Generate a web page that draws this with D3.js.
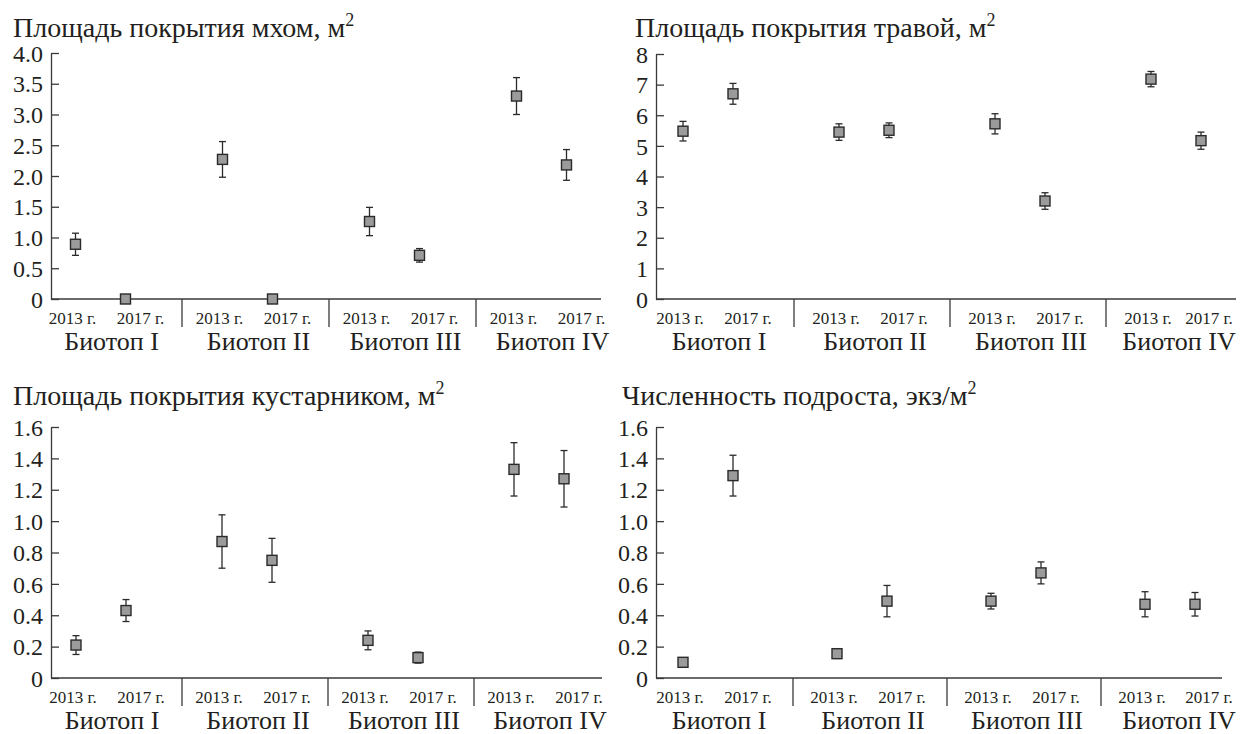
<!DOCTYPE html>
<html>
<head>
<meta charset="utf-8">
<script src="https://cdn.jsdelivr.net/npm/d3@7"></script>
<style>
	body { margin: 0; background: #fff; }
</style>
</head>
<body>
<svg id="chart" width="1240" height="734"></svg>
<script>
// categories (order: biotope I 2013, biotope I 2017, biotope II 2013, ...)
var biotopes = ["Биотоп I", "Биотоп II", "Биотоп III", "Биотоп IV"];
var years = ["2013 г.", "2017 г."];

// moss cover, m2
var mossMean = [0.89, 0, 2.27, 0, 1.26, 0.71, 3.30, 2.18];
var mossErr = [0.18, 0, 0.29, 0, 0.23, 0.11, 0.30, 0.25];
// grass cover, m2
var grassMean = [5.48, 6.70, 5.45, 5.51, 5.72, 3.20, 7.18, 5.17];
var grassErr = [0.32, 0.34, 0.27, 0.24, 0.33, 0.27, 0.25, 0.28];
// shrub cover, m2
var shrubMean = [0.21, 0.43, 0.87, 0.75, 0.24, 0.13, 1.33, 1.27];
var shrubErr = [0.06, 0.07, 0.17, 0.14, 0.06, 0.035, 0.17, 0.18];
// undergrowth density, ind/m2
var youngMean = [0.10, 1.29, 0.155, 0.49, 0.49, 0.67, 0.47, 0.47];
var youngErr = [0.02, 0.13, 0.03, 0.10, 0.05, 0.07, 0.08, 0.075];

var FONT = "'Liberation Serif', 'Times New Roman', serif";
var svg = d3.select("#chart").attr("font-family", FONT);

function txt(sel, size) {
	return sel.attr("font-family", FONT).attr("font-size", size).attr("fill", "#231f20");
}

function drawPanel(p) {
	var g = svg.append("g");
	var y = d3.scaleLinear().domain([0, p.max]).range([p.y0, p.y1]);
	var gx = d3.scaleBand().domain(biotopes).range(p.band);
	var px = d3.scalePoint().domain(years).range([-33, 17]);
	var lx = d3.scalePoint().domain(years).range([-36, 32]);

	var data = [];
	biotopes.forEach(function(b, i) {
		years.forEach(function(yr, j) {
			data.push({b: b, yr: yr, v: p.mean[i * 2 + j], e: p.err[i * 2 + j]});
		});
	});
	var cx = function(d) { return gx(d.b) + gx.bandwidth() / 2 + px(d.yr); };

	// title
	var t = txt(g.append("text"), 28)
		.attr("x", p.tx).attr("y", p.ty)
		.text(p.title);
	t.append("tspan").attr("dy", -11).attr("font-size", 18).text("2");

	// y axis
	var ticks = d3.range(0, p.max + p.step / 2, p.step);
	var ya = g.append("g")
		.attr("transform", "translate(" + p.ax + ",0)")
		.call(d3.axisLeft(y).tickValues(ticks).tickSizeInner(-8).tickSizeOuter(0).tickPadding(8)
			.tickFormat(function(d) { return d === 0 ? "0" : (p.step < 1 ? d.toFixed(1) : d); }));
	ya.attr("font-family", FONT);
	ya.selectAll("path, line").attr("stroke", "#3a3a3a").attr("stroke-width", 1.3);
	txt(ya.selectAll("text"), 24).attr("dy", "0.34em");

	// x axis line
	g.append("line")
		.attr("x1", p.ax).attr("x2", p.axEnd)
		.attr("y1", p.y0).attr("y2", p.y0)
		.attr("stroke", "#3a3a3a").attr("stroke-width", 1.3);

	// group separators
	g.selectAll(".sep")
		.data(biotopes.slice(1))
		.enter().append("line")
		.attr("x1", function(d) { return gx(d); })
		.attr("x2", function(d) { return gx(d); })
		.attr("y1", p.y0).attr("y2", p.y0 + 28)
		.attr("stroke", "#3a3a3a").attr("stroke-width", 1.3);

	// year labels
	txt(g.selectAll(".yl")
		.data(data)
		.enter().append("text"), 17)
		.attr("x", function(d) {
			var x = gx(d.b) + gx.bandwidth() / 2 + lx(d.yr);
			return Math.min(x, p.labelMax - 26);
		})
		.attr("y", p.y0 + 25)
		.attr("text-anchor", "middle")
		.text(function(d) { return d.yr; });

	// biotope labels
	txt(g.selectAll(".bl")
		.data(biotopes)
		.enter().append("text"), 26)
		.attr("x", function(d) { return Math.min(gx(d) + gx.bandwidth() / 2 + 3, p.labelMax - 56); })
		.attr("y", p.y0 + 51)
		.attr("text-anchor", "middle")
		.text(function(d) { return d; });

	// error bars
	var eb = g.selectAll(".eb")
		.data(data.filter(function(d) { return d.e > 0; }))
		.enter().append("g")
		.attr("stroke", "#2a2a2a").attr("stroke-width", 1.3);
	eb.append("line")
		.attr("x1", cx).attr("x2", cx)
		.attr("y1", function(d) { return y(d.v + d.e); })
		.attr("y2", function(d) { return y(d.v - d.e); });
	eb.append("line")
		.attr("x1", function(d) { return cx(d) - 3.5; })
		.attr("x2", function(d) { return cx(d) + 3.5; })
		.attr("y1", function(d) { return y(d.v + d.e); })
		.attr("y2", function(d) { return y(d.v + d.e); });
	eb.append("line")
		.attr("x1", function(d) { return cx(d) - 3.5; })
		.attr("x2", function(d) { return cx(d) + 3.5; })
		.attr("y1", function(d) { return y(d.v - d.e); })
		.attr("y2", function(d) { return y(d.v - d.e); });

	// markers
	g.selectAll(".pt")
		.data(data)
		.enter().append("rect")
		.attr("x", function(d) { return cx(d) - 5; })
		.attr("y", function(d) { return y(d.v) - 5; })
		.attr("width", 10).attr("height", 10)
		.attr("fill", "#9b9b9b")
		.attr("stroke", "#2a2a2a").attr("stroke-width", 1.4);
}

drawPanel({title: "Площадь покрытия мхом, м", mean: mossMean, err: mossErr, max: 4, step: 0.5,
	tx: 13, ty: 37, ax: 51, axEnd: 601, band: [35, 623], y0: 299, y1: 53, labelMax: 612});
drawPanel({title: "Площадь покрытия травой, м", mean: grassMean, err: grassErr, max: 8, step: 1,
	tx: 635, ty: 37, ax: 656, axEnd: 1236, band: [638, 1262], y0: 299, y1: 54, labelMax: 1235});
drawPanel({title: "Площадь покрытия кустарником, м", mean: shrubMean, err: shrubErr, max: 1.6, step: 0.2,
	tx: 13, ty: 405, ax: 51, axEnd: 602, band: [36, 620], y0: 678, y1: 427, labelMax: 612});
drawPanel({title: "Численность подроста, экз/м", mean: youngMean, err: youngErr, max: 1.6, step: 0.2,
	tx: 622, ty: 405, ax: 656, axEnd: 1222, band: [639, 1255], y0: 678, y1: 427, labelMax: 1235});
</script>
</body>
</html>
